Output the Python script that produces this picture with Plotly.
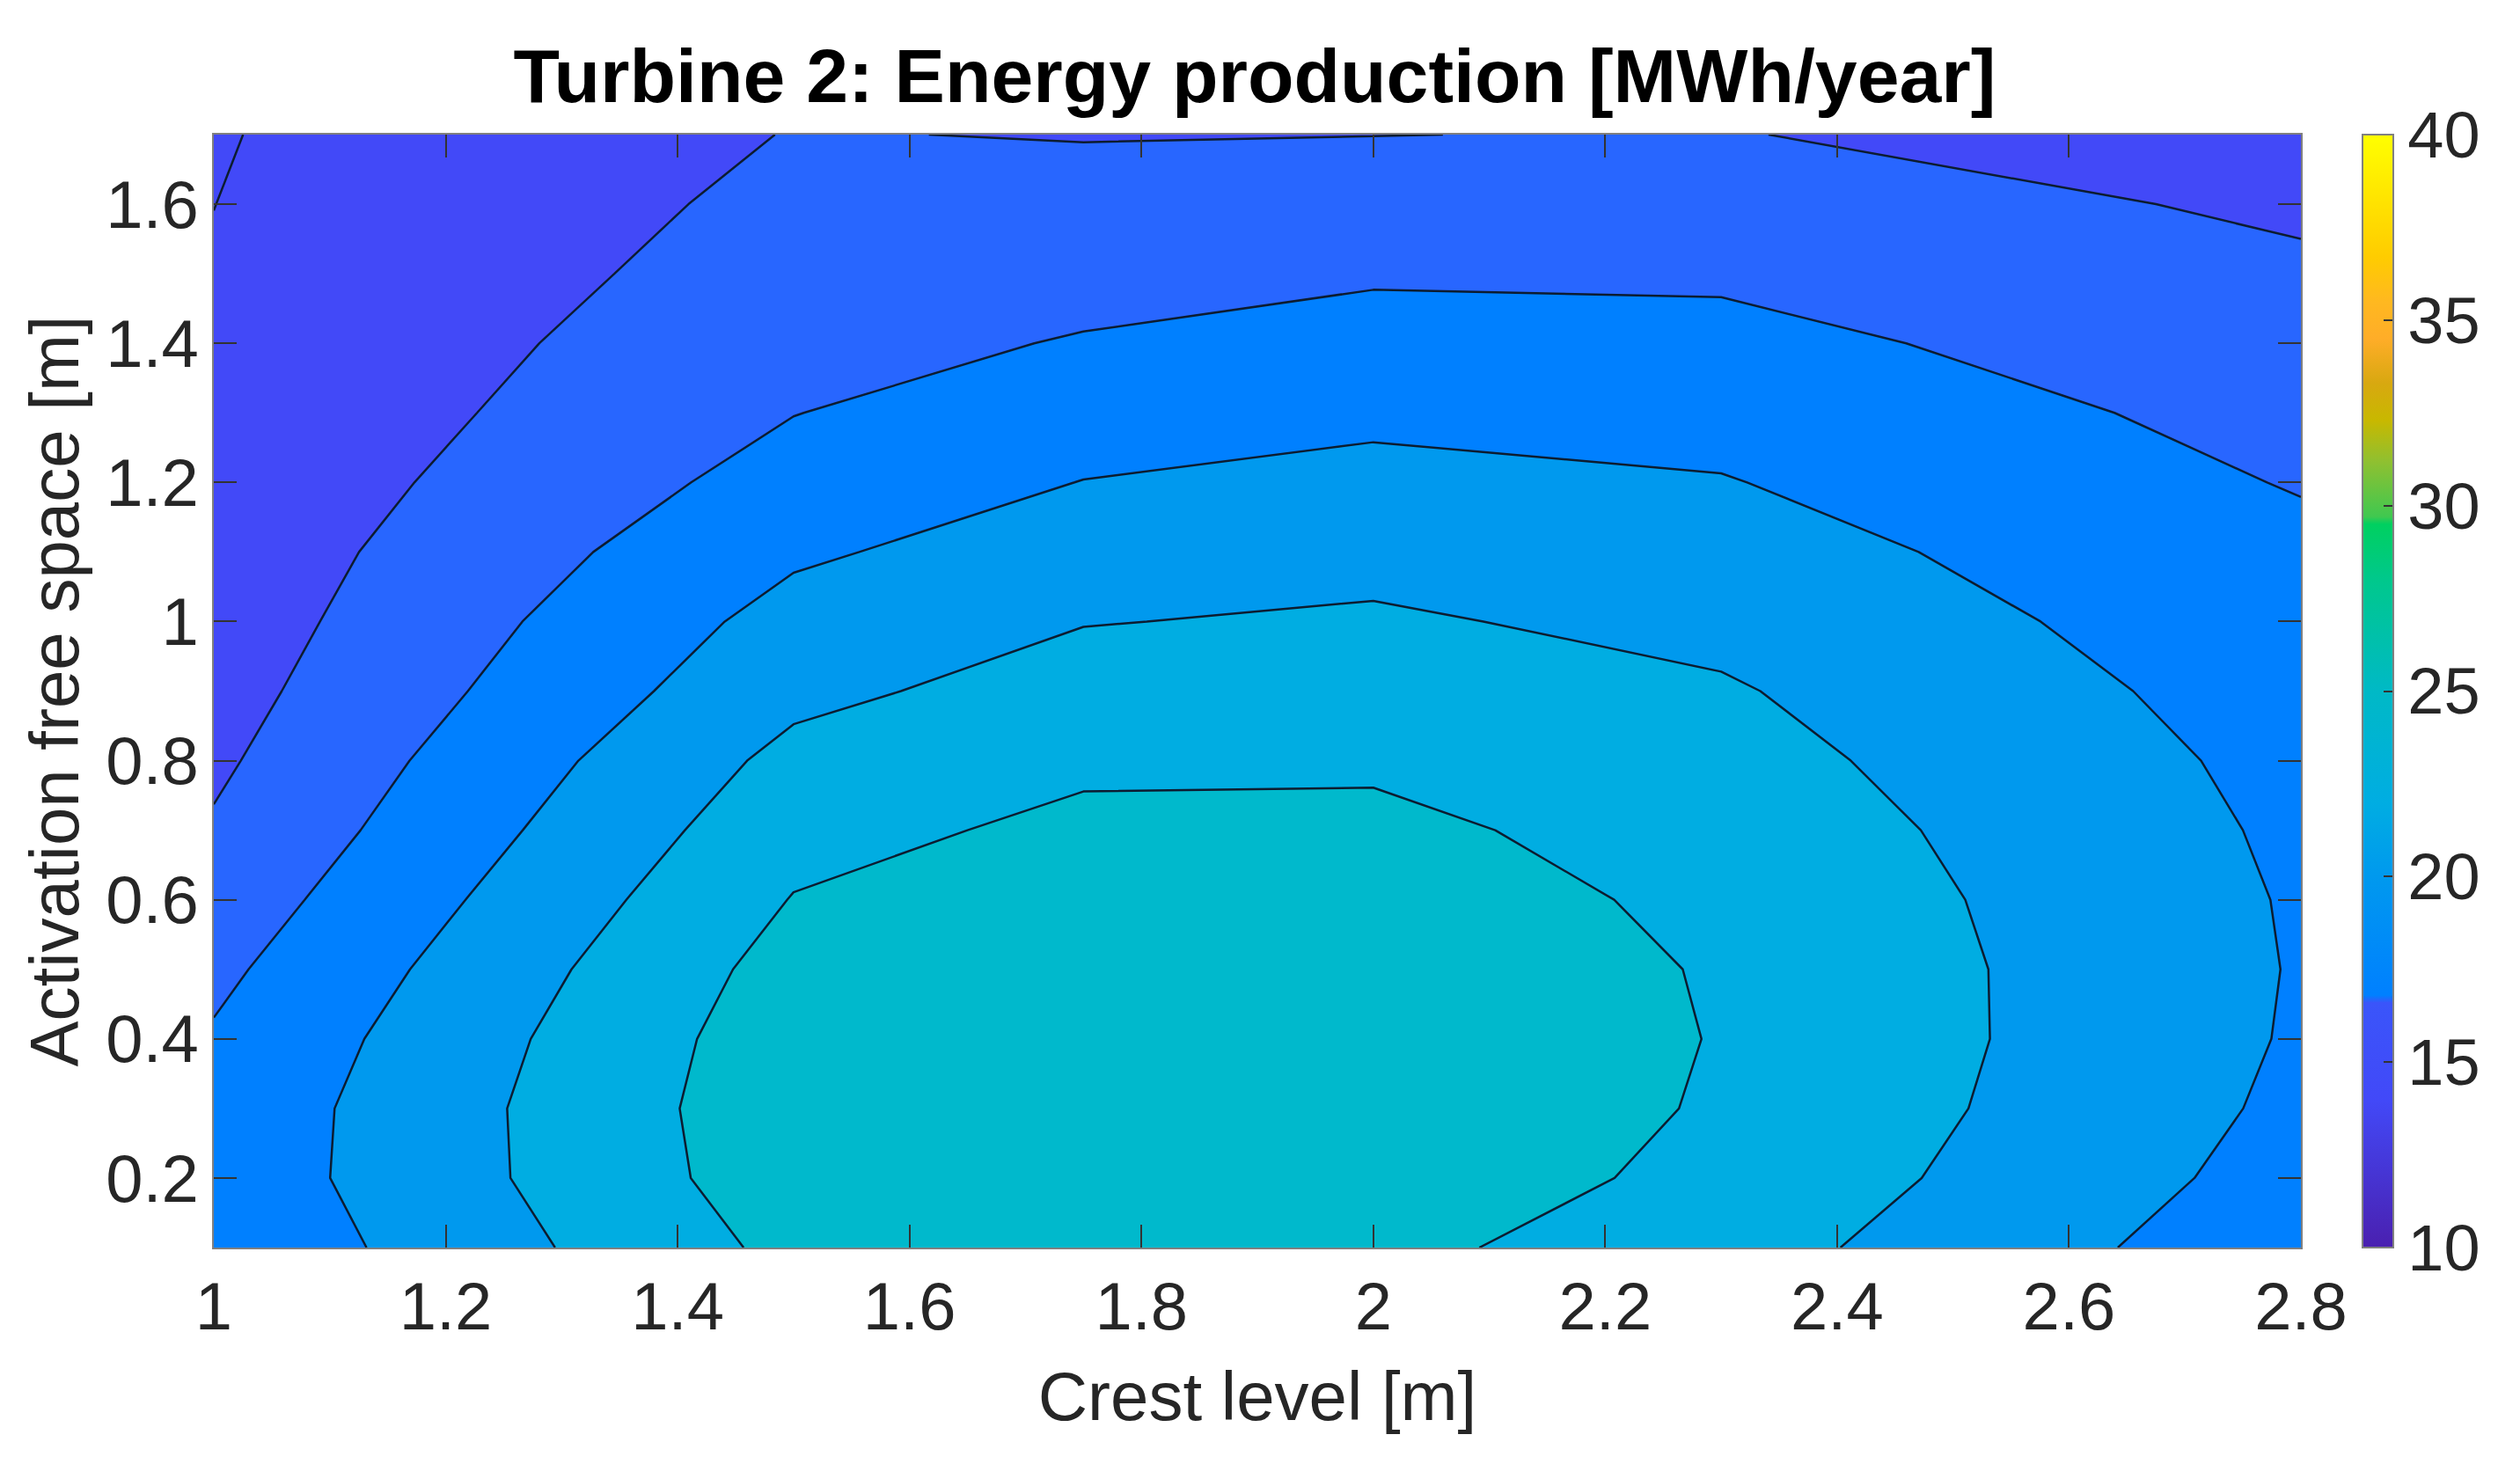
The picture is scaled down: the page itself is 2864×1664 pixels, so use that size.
# Contour map of turbine energy production, built on the measured grid
import plotly.graph_objects as go

# Grid of the data
crest_level = [1, 1.5, 1.75, 2, 2.3, 2.8]
free_space = [0.1, 0.2, 0.3, 0.4, 0.5, 0.6, 0.7, 0.8, 0.9, 1.0, 1.1, 1.2, 1.3, 1.4, 1.5, 1.6, 1.7]

# Energy production, one row per free space value
energy = [
    [18.38, 24.53, 25.3, 24.50, 22.86, 18.68],
    [18.71, 25.14, 25.9, 25.2, 23.47, 19.22],
    [18.60, 25.32, 26.0, 25.45, 23.80, 19.58],
    [18.19, 25.16, 25.8, 25.5, 23.91, 19.79],
    [17.57, 24.75, 25.5, 25.37, 23.83, 19.86],
    [16.87, 24.08, 25.0, 24.9, 23.6, 19.8],
    [16.19, 23.34, 24.44, 24.41, 23.24, 19.64],
    [15.68, 22.55, 23.65, 23.74, 22.74, 19.43],
    [15.27, 21.5, 22.85, 22.99, 22.21, 19.10],
    [14.95, 20.68, 21.93, 22.25, 21.46, 18.81],
    [14.76, 19.71, 20.99, 21.41, 20.78, 18.49],
    [14.55, 18.74, 20.04, 20.52, 20.1, 17.87],
    [14.37, 17.96, 19.10, 19.62, 19.33, 17.37],
    [14.22, 17.39, 18.125, 18.70, 18.53, 16.87],
    [14.10, 16.85, 17.39, 17.79, 17.73, 16.3],
    [13.99, 16.445, 16.65, 16.88, 16.9, 15.70],
    [13.89, 16.07, 15.92, 15.98, 16.08, 15.1],
]

x_ticks = [1, 1.2, 1.4, 1.6, 1.8, 2, 2.2, 2.4, 2.6, 2.8]
x_labels = ["1", "1.2", "1.4", "1.6", "1.8", "2", "2.2", "2.4", "2.6", "2.8"]
y_ticks = [0.2, 0.4, 0.6, 0.8, 1, 1.2, 1.4, 1.6]
y_labels = ["0.2", "0.4", "0.6", "0.8", "1", "1.2", "1.4", "1.6"]
bar_ticks = [10, 15, 20, 25, 30, 35, 40]

# One colour per filled band, lowest band first
band_colors = ["#4249f8", "#4249f8", "#2866ff", "#0080ff", "#0099ee", "#00ade2", "#00b9cc"]

# Colours of the colour bar, as (value, colour)
bar_colors = [
    (10, "#4a20b0"), (12, "#4635d4"), (14, "#4249f8"), (16.6, "#3a55fa"),
    (16.8, "#0080ff"), (20, "#0099ee"), (22, "#00ade2"), (25, "#00b9c6"),
    (28, "#00c88c"), (29.5, "#00d060"), (29.7, "#40c850"), (31.2, "#90c030"),
    (32.3, "#c8b800"), (33.3, "#d8a810"), (34.5, "#ffad28"), (35.5, "#ffb820"),
    (36.7, "#ffcc00"), (40, "#ffff00"),
]

text_color = "#262626"
font_name = "Liberation Sans"

fig = go.Figure()

fig.add_trace(go.Contour(
    x=crest_level, y=free_space, z=energy,
    contours=dict(start=14, end=24, size=2, coloring="fill"),
    colorscale=[[i / (len(band_colors) - 1), c] for i, c in enumerate(band_colors)],
    line=dict(color="#0c1c30", width=2.5, smoothing=0),
    showscale=False,
))

# Empty trace, only here to carry the continuous colour bar
fig.add_trace(go.Scatter(
    x=[None, None], y=[None, None], mode="markers", showlegend=False,
    marker=dict(
        color=[10, 40], cmin=10, cmax=40,
        colorscale=[[(v - 10) / 30, c] for v, c in bar_colors],
        showscale=True,
        colorbar=dict(
            x=(2685 - 243) / 2372, xanchor="left", xref="paper",
            y=0, yanchor="bottom", len=1, lenmode="fraction",
            thickness=35, thicknessmode="pixels", xpad=0, ypad=0,
            outlinecolor="#808080", outlinewidth=2,
            tickmode="array", tickvals=bar_ticks,
            ticks="inside", ticklen=12, tickwidth=2, tickcolor="#333333",
            tickfont=dict(size=74, color=text_color, family=font_name),
        ),
    ),
))

axis_style = dict(
    ticks="inside", ticklen=26, tickwidth=2, tickcolor="#333333",
    showline=True, linecolor="#808080", linewidth=2, mirror="ticks",
    showgrid=False, zeroline=False,
    tickfont=dict(size=76, color=text_color, family=font_name),
)

# The page body keeps its 8px margin, so the figure is 16px smaller than the window
fig.update_layout(
    width=2848, height=1648,
    margin=dict(l=235, r=241, t=144.5, b=238),
    paper_bgcolor="white", plot_bgcolor="white",
    title=dict(
        text="<b>Turbine 2: Energy production [MWh/year]</b>",
        x=0.4987, xref="paper", xanchor="center",
        y=1, yref="paper", yanchor="bottom", pad=dict(b=37),
        font=dict(size=86, color="black", family=font_name),
    ),
    xaxis=dict(
        range=[1, 2.8], tickvals=x_ticks, ticktext=x_labels,
        title=dict(text="Crest level [m]", standoff=33,
                   font=dict(size=78, color=text_color, family=font_name)),
        **axis_style,
    ),
    yaxis=dict(
        range=[0.1, 1.7], tickvals=y_ticks, ticktext=y_labels,
        title=dict(text="Activation free space [m]", standoff=5,
                   font=dict(size=78, color=text_color, family=font_name)),
        **axis_style,
    ),
)

fig.write_html("out.html")
